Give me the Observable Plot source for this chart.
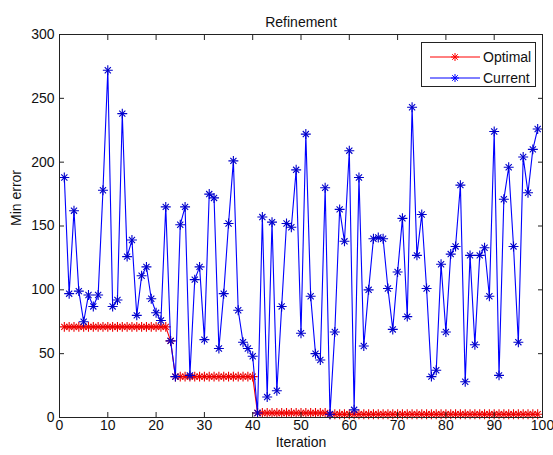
<!DOCTYPE html>
<html>
<head>
<meta charset="utf-8">
<script src="https://cdn.jsdelivr.net/npm/d3@7"></script>
<script src="https://cdn.jsdelivr.net/npm/@observablehq/plot@0.6"></script>
<style>
  html, body { margin: 0; padding: 0; background: #fff; }
  #wrap { position: relative; width: 553px; height: 455px; font-family: "Liberation Sans", Arial, sans-serif; }
  #legend { position: absolute; left: 421px; top: 42px; width: 115px; height: 45px; border: 1px solid #222; background: #fff; box-sizing: border-box; }
  #legend .row { position: absolute; left: 0; height: 20px; display: flex; align-items: center; font-size: 14px; color: #111; }
  #legend svg { display: block; }
</style>
</head>
<body>
<div id="wrap"></div>
<script>
const title = "Refinement";
const xLabel = "Iteration";
const yLabel = "Min error";
const seriesNames = ["Optimal", "Current"];
const seriesColors = ["#ff0000", "#0000ff"];
const xTicks = [0, 10, 20, 30, 40, 50, 60, 70, 80, 90, 100];
const yTicks = [0, 50, 100, 150, 200, 250, 300];

// Iterations 1..99
const current = [
  188, 97, 162, 99, 75, 96, 87, 96, 178, 272,
  87, 92, 238, 126, 139, 80, 111, 118, 93, 82,
  76, 165, 60, 32, 151, 165, 33, 108, 118, 61,
  175, 172, 54, 97, 152, 201, 84, 59, 54, 48,
  3.5, 157, 16, 153, 21, 87, 152, 149, 194, 66,
  222, 95, 50, 45, 180, 2.5, 67, 163, 138, 209,
  6, 188, 56, 100, 140, 141, 140, 101, 69, 114,
  156, 79, 243, 127, 159, 101, 32, 37, 120, 67,
  128, 134, 182, 28, 127, 57, 127, 133, 95, 224,
  33, 171, 196, 134, 59, 204, 176, 210, 226
];
const optimal = [
  71, 71, 71, 71, 71, 71, 71, 71, 71, 71,
  71, 71, 71, 71, 71, 71, 71, 71, 71, 71,
  71, 71, 60, 32, 32, 32, 32, 32, 32, 32,
  32, 32, 32, 32, 32, 32, 32, 32, 32, 32,
  3.5, 3.5, 3.5, 3.5, 3.5, 3.5, 3.5, 3.5, 3.5, 3.5,
  3.5, 3.5, 3.5, 3.5, 3.5, 2.5, 2.5, 2.5, 2.5, 2.5,
  2.5, 2.5, 2.5, 2.5, 2.5, 2.5, 2.5, 2.5, 2.5, 2.5,
  2.5, 2.5, 2.5, 2.5, 2.5, 2.5, 2.5, 2.5, 2.5, 2.5,
  2.5, 2.5, 2.5, 2.5, 2.5, 2.5, 2.5, 2.5, 2.5, 2.5,
  2.5, 2.5, 2.5, 2.5, 2.5, 2.5, 2.5, 2.5, 2.5
];

const optData = optimal.map((v, i) => ({iteration: i + 1, value: v}));
const curData = current.map((v, i) => ({iteration: i + 1, value: v}));

const axisColor = "#222";
const starMarks = (data, color, outline) => [
  Plot.line(data, {x: "iteration", y: "value", stroke: color, strokeWidth: 1.1}),
  Plot.dot(data, {x: "iteration", y: "value", symbol: "plus", r: 3.3, stroke: outline, strokeWidth: 1.1}),
  Plot.dot(data, {x: "iteration", y: "value", symbol: "times", r: 2.9, stroke: outline, strokeWidth: 1.1})
];

const chart = Plot.plot({
  width: 553,
  height: 455,
  marginLeft: 59,
  marginRight: 11,
  marginTop: 34,
  marginBottom: 38,
  style: {fontFamily: "'Liberation Sans', Arial, sans-serif", fontSize: "14px", color: "#111", background: "#fff", overflow: "visible"},
  x: {domain: [0, 100], label: null},
  y: {domain: [0, 300], label: null},
  marks: [
    ...starMarks(optData, seriesColors[0], "#ee0000"),
    ...starMarks(curData, seriesColors[1], "#0000cc"),
    Plot.frame({stroke: axisColor, strokeWidth: 1}),
    Plot.axisX(xTicks, {anchor: "bottom", tickSize: -5, tickFormat: () => "", label: null, stroke: axisColor}),
    Plot.axisX(xTicks, {anchor: "top", tickSize: -5, tickFormat: () => "", label: null, stroke: axisColor}),
    Plot.axisY(yTicks, {anchor: "left", tickSize: -5, tickFormat: () => "", label: null, stroke: axisColor}),
    Plot.axisY(yTicks, {anchor: "right", tickSize: -5, tickFormat: () => "", label: null, stroke: axisColor}),
    Plot.axisX(xTicks, {anchor: "bottom", tickSize: 0, tickPadding: 3, label: null, fontSize: 14, fill: "#111"}),
    Plot.axisY(yTicks, {anchor: "left", tickSize: 0, tickPadding: 5, label: null, fontSize: 14, fill: "#111"}),
    Plot.text([title], {frameAnchor: "top", dy: -17, fontSize: 14, fill: "#111"}),
    Plot.text([xLabel], {frameAnchor: "bottom", dy: 29, fontSize: 14, fill: "#111"}),
    Plot.text([yLabel], {frameAnchor: "left", dx: -43, rotate: -90, fontSize: 14, fill: "#111"})
  ]
});

const wrap = document.getElementById("wrap");
wrap.appendChild(chart);

const legend = document.createElement("div");
legend.id = "legend";
seriesNames.forEach((name, i) => {
  const row = document.createElement("div");
  row.className = "row";
  row.style.top = (4 + i * 21) + "px";
  const c = seriesColors[i];
  row.innerHTML =
    `<svg width="60" height="20"><line x1="8" y1="10" x2="58" y2="10" stroke="${c}" stroke-width="1"/>` +
    `<path d="M33,6V14M29,10H37M30.2,7.2L35.8,12.8M30.2,12.8L35.8,7.2" stroke="${c}" stroke-width="1" fill="none"/></svg>` +
    `<span style="margin-left:1px">${name}</span>`;
  legend.appendChild(row);
});
wrap.appendChild(legend);
</script>
</body>
</html>
